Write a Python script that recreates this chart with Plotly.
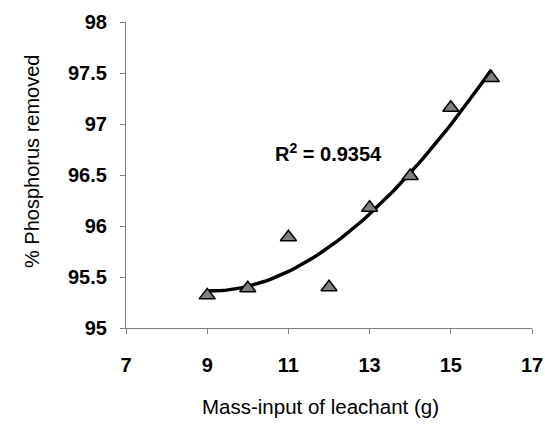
import numpy as np
import plotly.graph_objects as go

mass = [9, 10, 11, 12, 13, 14, 15, 16]
removed = [95.32, 95.39, 95.89, 95.40, 96.18, 96.49, 97.16, 97.45]
x_ticks = [7, 9, 11, 13, 15, 17]
y_ticks = [95, 95.5, 96, 96.5, 97, 97.5, 98]

coef = np.polyfit(mass, removed, 3)
xf = np.linspace(min(mass), max(mass), 60)
yf = np.polyval(coef, xf)

FONT = "Liberation Sans, Arial"

fig = go.Figure()
fig.add_trace(go.Scatter(x=xf, y=yf, mode="lines",
                         line=dict(color="black", width=3.5), showlegend=False))
fig.add_trace(go.Scatter(x=mass, y=removed, mode="markers",
                         marker=dict(symbol="triangle-up", size=14, color="#808080",
                                     line=dict(color="black", width=1.5)),
                         showlegend=False))
fig.add_annotation(x=11.98, y=96.72, text="<b>R<sup>2</sup> = 0.9354</b>", showarrow=False,
                   font=dict(family=FONT, size=20, color="black"))
fig.add_annotation(xref="paper", yref="paper", x=-0.2315, y=0.5425,
                   text="% Phosphorus removed", textangle=-90, showarrow=False,
                   xanchor="center", yanchor="middle",
                   font=dict(family=FONT, size=20, color="black"))
fig.add_annotation(xref="paper", yref="paper", x=0.48, y=-0.255,
                   text="Mass-input of leachant (g)", showarrow=False,
                   xanchor="center", yanchor="middle",
                   font=dict(family=FONT, size=20.5, color="black"))

fig.update_layout(
    width=545, height=432,
    margin=dict(l=126, r=13, t=22, b=104, autoexpand=False),
    paper_bgcolor="white", plot_bgcolor="white",
    font=dict(family=FONT, color="black"),
    xaxis=dict(range=[7, 17], tickvals=x_ticks, ticktext=[f"<b>{v}</b>" for v in x_ticks],
               ticks="outside", ticklen=5, tickcolor="#808080",
               showline=True, linecolor="#808080", linewidth=1.2,
               showgrid=False, zeroline=False, automargin=False,
               ticklabelstandoff=14,
               tickfont=dict(size=20, family=FONT)),
    yaxis=dict(range=[95, 98], tickvals=y_ticks, ticktext=[f"<b>{v:g}</b>" for v in y_ticks],
               ticks="outside", ticklen=5, tickcolor="#808080",
               showline=True, linecolor="#808080", linewidth=1.2,
               showgrid=False, zeroline=False, automargin=False,
               ticklabelstandoff=9,
               tickfont=dict(size=20, family=FONT)),
)
fig.write_html("out.html")
